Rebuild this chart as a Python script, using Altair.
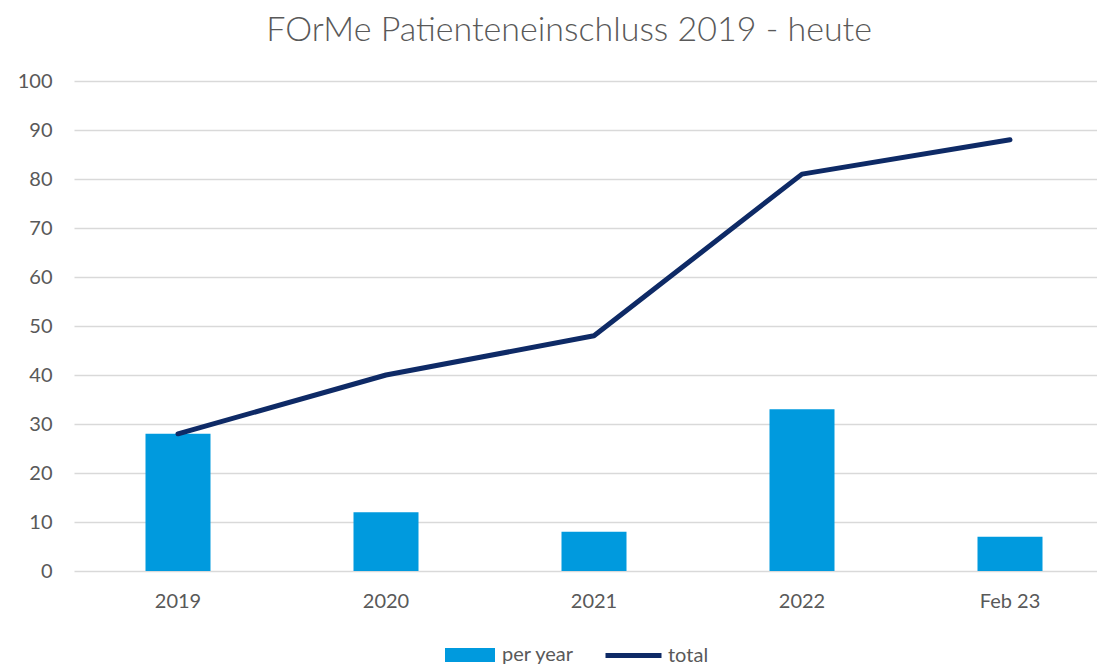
import altair as alt
import pandas as pd

categories = ["2019", "2020", "2021", "2022", "Feb 23"]
per_year = [28, 12, 8, 33, 7]
total = [28, 40, 48, 81, 88]

df = pd.DataFrame({
    "cat": categories,
    "per_year": per_year,
    "total": total,
    "s_bar": ["per year"] * 5,
    "s_line": ["total"] * 5,
})

FONT = "Lato"
GRAY = "#595959"

x = alt.X("cat:N", sort=categories, title=None,
          scale=alt.Scale(range=[0, 1040], paddingInner=0, paddingOuter=0),
          axis=alt.Axis(labelAngle=0, labelFontSize=20, labelFont=FONT, labelColor=GRAY,
                        ticks=False, domain=False, labelPadding=20, grid=False))

bars = alt.Chart(df).mark_bar(size=65).encode(
    x=x,
    y=alt.Y("per_year:Q", title=None,
            scale=alt.Scale(domain=[0, 100], nice=False),
            axis=alt.Axis(values=list(range(0, 101, 10)), labelFontSize=20, labelFont=FONT,
                          labelColor=GRAY, ticks=False, domain=False, labelPadding=22,
                          gridColor="#d9d9d9", gridWidth=1.5)),
    color=alt.Color("s_bar:N", scale=alt.Scale(range=["#009ADE"]),
                    legend=alt.Legend(orient="none", legendX=371, legendY=549, title=None,
                                      symbolType="M-1,-0.28H1V0.28H-1Z", symbolSize=2500,
                                      symbolStrokeWidth=0, labelOffset=7, padding=0,
                                      labelFontSize=20, labelFont=FONT, labelColor=GRAY)),
)

line = alt.Chart(df).mark_line(strokeWidth=5, strokeCap="round", strokeJoin="round").encode(
    x=x,
    y=alt.Y("total:Q"),
    color=alt.Color("s_line:N", scale=alt.Scale(range=["#0E2A66"]),
                    legend=alt.Legend(orient="none", legendX=529, legendY=544, title=None,
                                      symbolType="stroke", symbolSize=3136,
                                      symbolStrokeWidth=5, labelOffset=4, padding=0,
                                      labelFontSize=20, labelFont=FONT, labelColor=GRAY)),
)

chart = alt.layer(bars, line).resolve_scale(color="independent").properties(
    width=1023, height=490,
    autosize=alt.AutoSizeParams(type="none"),
    padding={"left": 74, "top": 81, "right": 0, "bottom": 98},
    title=alt.Title("FOrMe Patienteneinschluss 2019 - heute", fontSize=34, font=FONT,
                    fontWeight=300, color=GRAY, anchor="start", dx=249, offset=23),
).configure_view(stroke=None)

chart.save("out.html", embed_options={"renderer": "svg", "actions": False})
